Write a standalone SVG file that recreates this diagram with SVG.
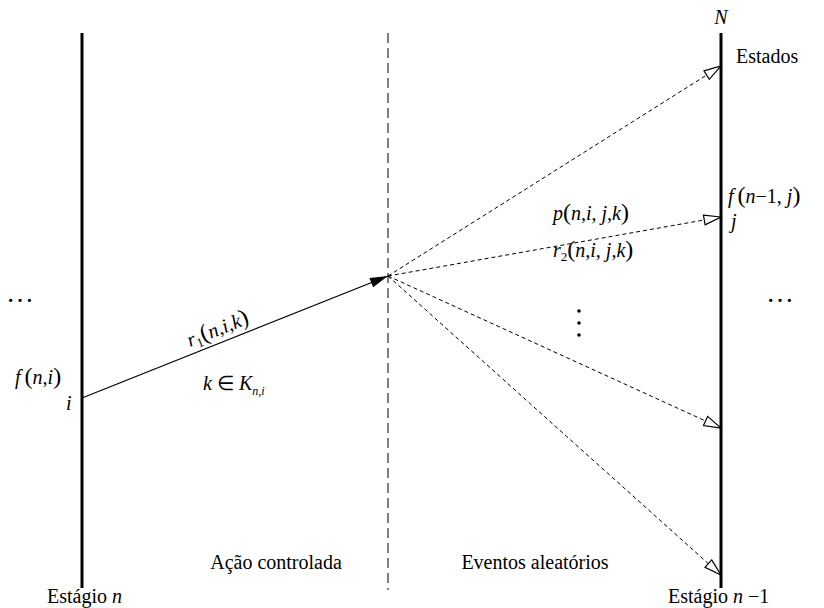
<svg xmlns="http://www.w3.org/2000/svg" width="824" height="608" viewBox="0 0 824 608" font-family="Times New Roman, serif">
<defs>
<style>
text{font-family:"Times New Roman","Liberation Serif",serif}
.stage{stroke:#000;stroke-width:3;fill:none}
.div{stroke:#000;stroke-width:1;stroke-dasharray:10,5;fill:none}
.rnd{stroke:#000;stroke-width:1;stroke-dasharray:4,3;fill:none}
.ctl{stroke:#000;stroke-width:1.2;fill:none}
</style>
<marker id="open" markerUnits="userSpaceOnUse" markerWidth="20" markerHeight="14" refX="18" refY="6" orient="auto" overflow="visible">
<path d="M1,1 L18,6 L1,11 Z" fill="#fff" stroke="#000" stroke-width="1.2"/>
</marker>
<marker id="solid" markerUnits="userSpaceOnUse" markerWidth="20" markerHeight="12" refX="18" refY="5" orient="auto" overflow="visible">
<path d="M0,0 L18,5 L0,10 Z" fill="#000" stroke="none"/>
</marker>
</defs>

<g id="stage-n">
<line class="stage" x1="82" y1="33" x2="82" y2="588"/>
<text x="47" y="603" font-size="20">Estágio <tspan font-style="italic">n</tspan></text>
<text x="15" y="384" font-size="20" font-style="italic">f<tspan dx="4" font-style="normal" font-size="24">(</tspan>n,i<tspan font-style="normal" font-size="24">)</tspan></text>
<text x="66" y="410" font-size="20" font-style="italic">i</text>
<text x="6" y="302" font-size="28">…</text>
</g>

<g id="divider">
<line class="div" x1="388" y1="33" x2="388" y2="590"/>
</g>

<g id="stage-n-1">
<line class="stage" x1="721" y1="33" x2="721" y2="588"/>
<text x="721" y="24" text-anchor="middle" font-size="20" font-style="italic">N</text>
<text x="736" y="63" font-size="20">Estados</text>
<text x="728" y="203" font-size="20" font-style="italic">f<tspan dx="4" font-style="normal" font-size="24">(</tspan>n<tspan font-style="normal">−1,</tspan> j<tspan font-style="normal" font-size="24">)</tspan></text>
<text x="731" y="228" font-size="20" font-style="italic">j</text>
<text x="668" y="603" font-size="20">Estágio <tspan font-style="italic">n</tspan> −1</text>
<text x="766" y="302" font-size="28">…</text>
</g>

<g id="labels">
<text x="553" y="220" font-size="20" font-style="italic">p<tspan font-style="normal" font-size="24">(</tspan>n,i, j,k<tspan font-style="normal" font-size="24">)</tspan></text>
<text x="553" y="257" font-size="20" font-style="italic">r<tspan dy="4" font-style="normal" font-size="13">2</tspan><tspan dy="-4" font-style="normal" font-size="24">(</tspan>n,i, j,k<tspan font-style="normal" font-size="24">)</tspan></text>
<g fill="#000">
<circle cx="579" cy="311" r="1.8"/>
<circle cx="579" cy="323" r="1.8"/>
<circle cx="579" cy="335" r="1.8"/>
</g>
<text transform="translate(190,347) rotate(-21.7)" font-size="20" font-style="italic">r<tspan dy="4" font-style="normal" font-size="13">1</tspan><tspan dy="-4" font-style="normal" font-size="24">(</tspan>n,i,k<tspan font-style="normal" font-size="24">)</tspan></text>
<text x="203" y="390" font-size="20" font-style="italic">k <tspan font-style="normal">∈</tspan> K<tspan dy="5" font-size="12">n,i</tspan></text>
<text x="276" y="569" text-anchor="middle" font-size="20">Ação controlada</text>
<text x="535" y="569" text-anchor="middle" font-size="20">Eventos aleatórios</text>
</g>

<g id="connectors">
<line class="ctl" x1="82" y1="398" x2="388" y2="276" marker-end="url(#solid)"/>
<line class="rnd" x1="388" y1="276" x2="721" y2="66" marker-end="url(#open)"/>
<line class="rnd" x1="388" y1="276" x2="721" y2="217" marker-end="url(#open)"/>
<line class="rnd" x1="388" y1="276" x2="721" y2="428" marker-end="url(#open)"/>
<line class="rnd" x1="388" y1="276" x2="721" y2="575" marker-end="url(#open)"/>
</g>
</svg>
